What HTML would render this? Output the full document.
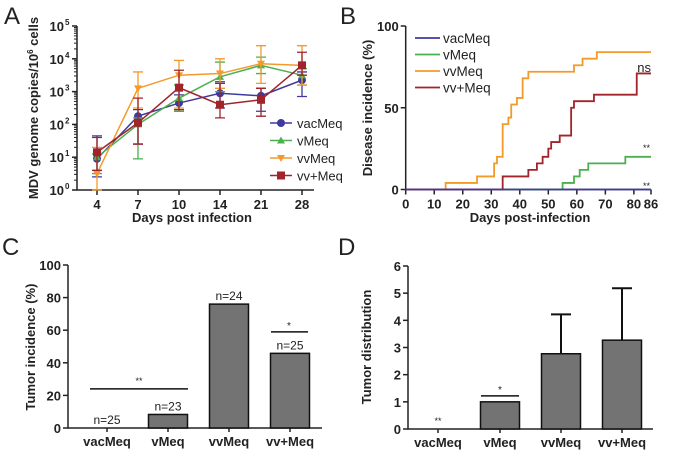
<!DOCTYPE html>
<html><head><meta charset="utf-8"><style>
body{margin:0;background:#fff}
svg{display:block;font-family:"Liberation Sans",Arial,sans-serif}
.t{font-weight:bold;font-size:13px;fill:#222}
.ax{stroke:#222;stroke-width:1.5;fill:none}
</style></head><body>
<svg id="fig" width="700" height="451" viewBox="0 0 700 451">
<text x="4" y="24" font-size="24" fill="#222">A</text>
<text x="340" y="24" font-size="24" fill="#222">B</text>
<text x="2" y="255" font-size="24" fill="#222">C</text>
<text x="338" y="255" font-size="24" fill="#222">D</text>
<text class="t" transform="translate(38,108) rotate(-90)" text-anchor="middle">MDV genome copies/10<tspan font-size="8" dy="-5">6</tspan><tspan dy="5"> cells</tspan></text>
<text class="t" x="192" y="222" text-anchor="middle">Days post infection</text>
<text class="t" transform="translate(372,108) rotate(-90)" text-anchor="middle">Disease incidence (%)</text>
<text class="t" x="530" y="222" text-anchor="middle">Days post-infection</text>
<text class="t" transform="translate(35,347) rotate(-90)" text-anchor="middle">Tumor incidence (%)</text>
<text class="t" transform="translate(371,347) rotate(-90)" text-anchor="middle">Tumor distribution</text>
<g id="A"></g><g id="B"></g><g id="C"></g><g id="D"></g>
</svg>
<script>
// Panel A data (log10 values)
const aDays=["4","7","10","14","21","28"];
const aSeries=["vacMeq","vMeq","vvMeq","vv+Meq"];
const aColors=["#3f3a9e","#4caf50","#f39a2b","#a0242a"];
const aVac=[0.95,2.25,2.65,2.95,2.87,3.35];
const aVMeq=[1.0,2.0,2.8,3.45,3.8,3.5];
const aVV=[0.5,3.1,3.5,3.55,3.85,3.8];
const aVVp=[1.15,2.05,3.12,2.6,2.75,3.8];
const aVacErr=[[0.4,1.65],[1.4,2.45],[2.4,2.9],[2.5,3.3],[2.4,3.1],[2.85,3.6]];
const aVMeqErr=[[0.5,1.1],[0.95,2.2],[2.4,3.2],[3.0,3.9],[3.55,4.05],[3.2,3.7]];
const aVVErr=[[0,1.3],[2.5,3.6],[2.5,3.95],[3.1,4.0],[3.25,4.4],[3.2,4.4]];
const aVVpErr=[[0.6,1.6],[1.4,2.8],[2.45,3.65],[2.2,3.25],[2.25,3.1],[3.5,4.2]];
// Panel B step data: [day, percent]
const bVac=[[0,0],[86,0]];
const bVMeq=[[0,0],[55,4],[59,8],[61,12],[64,16],[77,20],[86,20]];
const bVV=[[0,0],[14,4],[25,8],[31,16],[32,20],[34,40],[36,44],[37,52],[39,56],[41,68],[43,72],[59,76],[62,80],[67,84],[86,84]];
const bVVp=[[0,0],[34,8],[43,12],[46,16],[48,20],[50,25],[51,29],[54,33],[58,50],[59,54],[66,58],[81,71],[86,71]];
const bTicks=[0,10,20,30,40,50,60,70,80,86];
// Panel C/D
const groups=["vacMeq","vMeq","vvMeq","vv+Meq"];
const cVals=[0,8.3,76,45.8];
const cN=["n=25","n=23","n=24","n=25"];
const dVals=[0,1,2.77,3.27];
const dErr=[0,0,4.22,5.18];

const NS="http://www.w3.org/2000/svg";
function mk(p,tag,at,txt){const e=document.createElementNS(NS,tag);for(const k in at)e.setAttribute(k,at[k]);if(txt!==undefined)e.textContent=txt;p.appendChild(e);return e;}

// ---- Panel A
(function(){
const g=document.getElementById('A');
const x0=97,dx=41,yb=190,yt=26;
const X=i=>x0+i*dx, Y=v=>yb-(v/5)*(yb-yt);
let e=mk(g,'path',{d:`M77,${yt}V${yb}H314`,class:'ax'});

for(let k=0;k<=5;k++){mk(g,'line',{x1:72,x2:77,y1:Y(k),y2:Y(k),stroke:'#222','stroke-width':1.5});
 e=mk(g,'text',{x:64,y:Y(k)+5,class:'t','text-anchor':'end'},'10');
 
 mk(g,'text',{x:65,y:Y(k)-1,'font-size':8,'font-weight':'bold',fill:'#222'},String(k));
 for(let m=2;m<10&&k<5;m++){const yy=Y(k+Math.log10(m));mk(g,'line',{x1:74,x2:77,y1:yy,y2:yy,stroke:'#222','stroke-width':1});}
}
aDays.forEach((d,i)=>{mk(g,'line',{x1:X(i),x2:X(i),y1:yb,y2:yb+5,stroke:'#222','stroke-width':1.5});
 e=mk(g,'text',{x:X(i),y:yb+19,class:'t','text-anchor':'middle'},d);
 });
const vals=[aVac,aVMeq,aVV,aVVp], errs=[aVacErr,aVMeqErr,aVVErr,aVVpErr];
vals.forEach((v,s)=>{const c=aColors[s];
 errs[s].forEach((r,i)=>{mk(g,'path',{d:`M${X(i)},${Y(r[0])}V${Y(r[1])}M${X(i)-5},${Y(r[0])}h10M${X(i)-5},${Y(r[1])}h10`,stroke:c,'stroke-width':1.3,fill:'none'});});
 e=mk(g,'polyline',{points:v.map((y,i)=>X(i)+','+Y(y)).join(' '),stroke:c,'stroke-width':1.5,fill:'none'});
 
 v.forEach((y,i)=>{marker(g,s,X(i),Y(y),c);});
});
aSeries.forEach((n,s)=>{const ly=123+s*17.5;
 mk(g,'line',{x1:270,x2:292,y1:ly,y2:ly,stroke:aColors[s],'stroke-width':1.5});marker(g,s,281,ly,aColors[s]);
 e=mk(g,'text',{x:297,y:ly+5,'font-size':13,fill:'#222'},n);
 });
})();
function marker(g,s,x,y,c){
 if(s==0)mk(g,'circle',{cx:x,cy:y,r:4,fill:c});
 else if(s==1)mk(g,'path',{d:`M${x},${y-4}L${x+4},${y+3}L${x-4},${y+3}Z`,fill:c});
 else if(s==2)mk(g,'path',{d:`M${x},${y+4}L${x+4},${y-3}L${x-4},${y-3}Z`,fill:c});
 else mk(g,'rect',{x:x-4,y:y-4,width:8,height:8,fill:c});
}
// ---- Panel B
(function(){
const g=document.getElementById('B');
const xl=405.7,xr=651,yb=189.5,yt=26;
const X=d=>xl+d/86*(xr-xl), Y=p=>yb-p/100*(yb-yt);
let e=mk(g,'path',{d:`M${xl},${yt}V${yb}H${xr}`,class:'ax'});

[0,50,100].forEach(v=>{mk(g,'line',{x1:xl-5,x2:xl,y1:Y(v),y2:Y(v),stroke:'#222','stroke-width':1.5});
 e=mk(g,'text',{x:xl-7,y:Y(v)+5,class:'t','text-anchor':'end'},String(v));
 });
bTicks.forEach(v=>{mk(g,'line',{x1:X(v),x2:X(v),y1:yb,y2:yb+5,stroke:'#222','stroke-width':1.5});
 e=mk(g,'text',{x:X(v),y:yb+19,class:'t','text-anchor':'middle'},String(v));
 });
const sets=[bVMeq,bVV,bVVp,bVac], cols=[aColors[1],aColors[2],aColors[3],aColors[0]], nm=["vMeq","vvMeq","vv+Meq","vacMeq"];
sets.forEach((s,k)=>{let d=`M${X(s[0][0])},${Y(s[0][1])}`;
 for(let i=1;i<s.length;i++){d+=`H${X(s[i][0])}V${Y(s[i][1])}`;}
 e=mk(g,'path',{d:d,stroke:cols[k],'stroke-width':1.8,fill:'none'});
 });
aSeries.forEach((n,s)=>{const ly=38+s*16.5;
 mk(g,'line',{x1:415,x2:440,y1:ly,y2:ly,stroke:aColors[s],'stroke-width':1.8});
 e=mk(g,'text',{x:443,y:ly+5,'font-size':13.5,fill:'#222'},n);
 });
mk(g,'text',{x:651,y:72,'font-size':13,fill:'#222','text-anchor':'end'},'ns');
mk(g,'text',{x:650,y:151,'font-size':9,fill:'#222','text-anchor':'end'},'**');
mk(g,'text',{x:650,y:189,'font-size':9,fill:'#222','text-anchor':'end'},'**');
})();
// ---- Bar panels
function bars(id,xl,xr,yb,yt,max,ticks,cx,vals,errs,tag){
 const g=document.getElementById(id);
 const Y=v=>yb-v/max*(yb-yt);
 let e=mk(g,'path',{d:`M${xl},${yt}V${yb}H${xr}`,class:'ax'});
 
 ticks.forEach(v=>{mk(g,'line',{x1:xl-5,x2:xl,y1:Y(v),y2:Y(v),stroke:'#222','stroke-width':1.5});
  e=mk(g,'text',{x:xl-7,y:Y(v)+5,class:'t','text-anchor':'end','font-size':14},String(v));
  });
 groups.forEach((n,i)=>{const x=cx[i];
  mk(g,'line',{x1:x,x2:x,y1:yb,y2:yb+4,stroke:'#222','stroke-width':1.5});
  e=mk(g,'text',{x:x,y:yb+18,class:'t','text-anchor':'middle','font-size':13.5},n);
  
  if(errs&&errs[i]>vals[i]){mk(g,'path',{d:`M${x},${Y(vals[i])}V${Y(errs[i])}M${x-10},${Y(errs[i])}h20`,stroke:'#111','stroke-width':2,fill:'none'});}
  if(vals[i]>0){e=mk(g,'rect',{x:x-19.5,y:Y(vals[i]),width:39,height:yb-Y(vals[i]),fill:'#737373',stroke:'#111','stroke-width':1.5});
   }
 });
 return {g,Y};
}
(function(){
 const cx=[107,168,229,290];
 const r=bars('C',68,322,428,265,100,[0,20,40,60,80,100],cx,cVals,null,'c');
 cN.forEach((n,i)=>{const e=mk(r.g,'text',{x:cx[i],y:r.Y(cVals[i])-4,'font-size':12,fill:'#222','text-anchor':'middle'},n);
  });
 mk(r.g,'line',{x1:90,x2:188,y1:r.Y(24),y2:r.Y(24),stroke:'#111','stroke-width':1.5});
 mk(r.g,'text',{x:139,y:r.Y(24)-5,'font-size':9,fill:'#222','text-anchor':'middle'},'**');
 mk(r.g,'line',{x1:271,x2:308,y1:r.Y(59),y2:r.Y(59),stroke:'#111','stroke-width':1.5});
 mk(r.g,'text',{x:289,y:r.Y(59)-3,'font-size':10,fill:'#222','text-anchor':'middle'},'*');
})();
(function(){
 const cx=[438,500,561,622];
 const r=bars('D',408,653,429,266,6,[0,1,2,3,4,5,6],cx,dVals,dErr,'d');
 mk(r.g,'text',{x:438,y:424,'font-size':9,fill:'#222','text-anchor':'middle'},'**');
 mk(r.g,'line',{x1:481,x2:519,y1:r.Y(1.22),y2:r.Y(1.22),stroke:'#111','stroke-width':1.5});
 mk(r.g,'text',{x:500,y:r.Y(1.22)-3,'font-size':10,fill:'#222','text-anchor':'middle'},'*');
})();
</script>
</body></html>
